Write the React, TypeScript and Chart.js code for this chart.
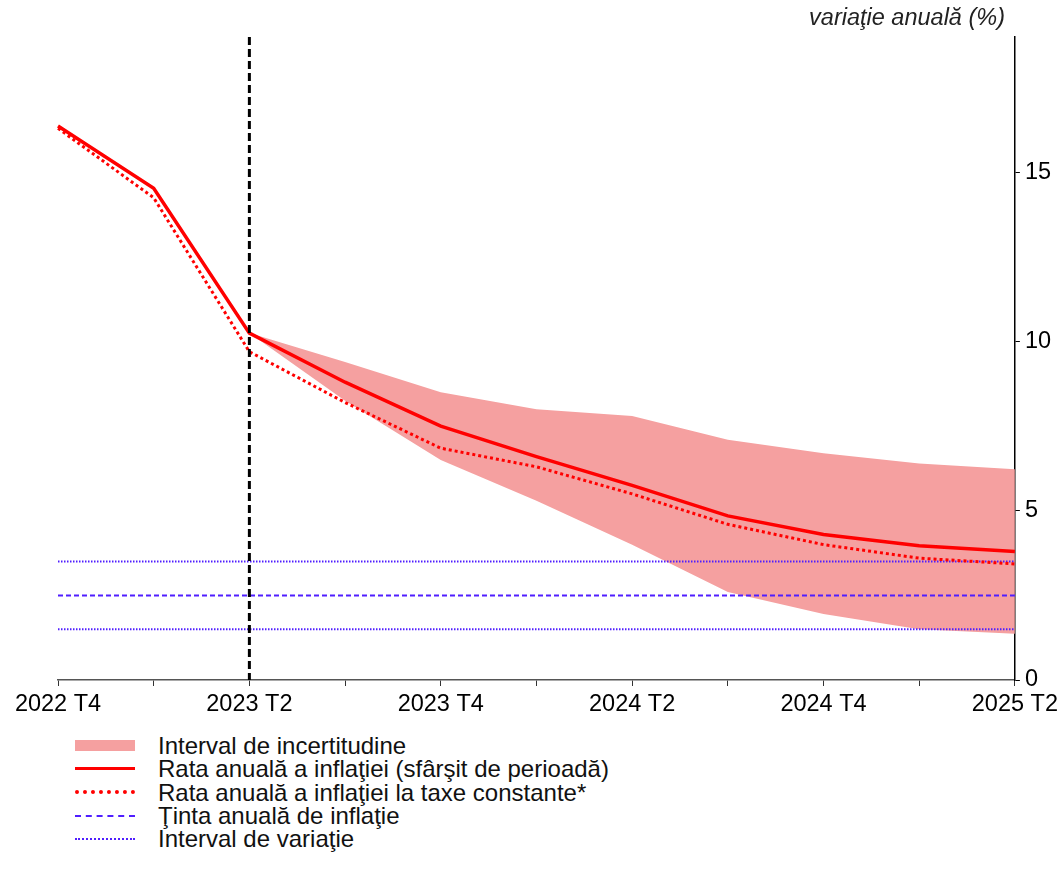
import React, { useEffect, useRef } from 'react';
import { Chart, registerables } from 'chart.js';

Chart.register(...registerables);

const categories = ['2022 T4', '2023 T1', '2023 T2', '2023 T3', '2023 T4', '2024 T1', '2024 T2', '2024 T3', '2024 T4', '2025 T1', '2025 T2'];
const tickLabels = ['2022 T4', '', '2023 T2', '', '2023 T4', '', '2024 T2', '', '2024 T4', '', '2025 T2'];
const inflation = [16.37, 14.53, 10.25, 8.8, 7.5, 6.6, 5.75, 4.85, 4.3, 3.97, 3.8];
const inflationConstTaxes = [16.3, 14.25, 9.7, 8.2, 6.85, 6.3, 5.5, 4.6, 4.0, 3.6, 3.43];
const bandLower = [null, null, 10.25, 8.25, 6.5, 5.3, 4.0, 2.6, 1.95, 1.5, 1.37];
const bandUpper = [null, null, 10.25, 9.4, 8.5, 8.0, 7.8, 7.1, 6.7, 6.4, 6.23];
const targetValue = 2.5;
const targetLowValue = 1.5;
const targetHighValue = 3.5;
const yTicks = [0, 5, 10, 15];
const yMin = 0;
const yMax = 19;
const forecastStart = '2023 T2';

const legendItems = [
  { label: 'Interval de incertitudine', kind: 'band' },
  { label: 'Rata anuală a inflaţiei (sfârşit de perioadă)', kind: 'solid' },
  { label: 'Rata anuală a inflaţiei la taxe constante*', kind: 'dotted' },
  { label: 'Ţinta anuală de inflaţie', kind: 'blueDashed' },
  { label: 'Interval de variaţie', kind: 'blueDotted' },
];

const FONT = 'Arial, "Liberation Sans", sans-serif';
const RED = 'rgb(255,0,0)';
const BAND = 'rgb(245,160,160)';
const BLUE = 'rgb(80,30,255)';

const vlinePlugin = {
  id: 'vline',
  afterDatasetsDraw(chart: any) {
    const xScale = chart.scales.x;
    const x = xScale.getPixelForValue(categories.indexOf(forecastStart));
    const { top, bottom } = chart.chartArea;
    const ctx = chart.ctx;
    ctx.save();
    ctx.strokeStyle = '#000';
    ctx.lineWidth = 3;
    ctx.setLineDash([8, 4]);
    ctx.beginPath();
    ctx.moveTo(x, top);
    ctx.lineTo(x, bottom);
    ctx.stroke();
    ctx.restore();
  },
};

function LegendSymbol({ kind }: { kind: string }) {
  const base: React.CSSProperties = { width: 60, boxSizing: 'border-box' };
  if (kind === 'band') return <div style={{ ...base, height: 11, background: BAND }} />;
  if (kind === 'solid') return <div style={{ ...base, height: 0, borderTop: `3.5px solid ${RED}` }} />;
  if (kind === 'dotted') return <div style={{ ...base, height: 0, borderTop: `4px dotted ${RED}` }} />;
  if (kind === 'blueDashed') return <div style={{ ...base, height: 0, borderTop: `2px dashed ${BLUE}` }} />;
  return <div style={{ ...base, height: 0, borderTop: `2px dotted ${BLUE}` }} />;
}

export default function App() {
  const canvasRef = useRef<HTMLCanvasElement | null>(null);

  useEffect(() => {
    if (!canvasRef.current) return;
    const n = categories.length;
    const chart = new Chart(canvasRef.current, {
      type: 'line',
      data: {
        labels: categories,
        datasets: [
          {
            label: 'lower',
            data: bandLower,
            borderWidth: 0,
            borderColor: 'rgba(0,0,0,0)',
            pointRadius: 0,
            fill: false,
            order: 10,
          },
          {
            label: 'Interval de incertitudine',
            data: bandUpper,
            borderWidth: 0,
            borderColor: 'rgba(0,0,0,0)',
            backgroundColor: BAND,
            pointRadius: 0,
            fill: '-1',
            order: 9,
          },
          {
            label: 'Interval de variaţie (jos)',
            data: new Array(n).fill(targetLowValue),
            borderColor: BLUE,
            borderWidth: 2,
            borderDash: [1.5, 1.5],
            pointRadius: 0,
            fill: false,
            order: 5,
          },
          {
            label: 'Ţinta anuală de inflaţie',
            data: new Array(n).fill(targetValue),
            borderColor: BLUE,
            borderWidth: 2,
            borderDash: [5, 3],
            pointRadius: 0,
            fill: false,
            order: 5,
          },
          {
            label: 'Interval de variaţie (sus)',
            data: new Array(n).fill(targetHighValue),
            borderColor: BLUE,
            borderWidth: 2,
            borderDash: [1.5, 1.5],
            pointRadius: 0,
            fill: false,
            order: 5,
          },
          {
            label: 'Rata anuală a inflaţiei la taxe constante*',
            data: inflationConstTaxes,
            borderColor: RED,
            borderWidth: 3,
            borderDash: [3, 3],
            pointRadius: 0,
            fill: false,
            order: 2,
          },
          {
            label: 'Rata anuală a inflaţiei (sfârşit de perioadă)',
            data: inflation,
            borderColor: RED,
            borderWidth: 3.5,
            pointRadius: 0,
            fill: false,
            order: 1,
          },
        ],
      },
      options: {
        animation: false,
        responsive: false,
        maintainAspectRatio: false,
        layout: { padding: { left: 58, top: 37, right: 0, bottom: 0 } },
        plugins: {
          legend: { display: false },
          tooltip: { enabled: false },
          title: { display: false },
        },
        scales: {
          x: {
            type: 'category',
            offset: false,
            grid: {
              display: true,
              drawOnChartArea: false,
              drawTicks: true,
              tickLength: 6,
              color: '#333',
            },
            border: { display: true, color: '#555', width: 1.5 },
            ticks: {
              autoSkip: false,
              maxRotation: 0,
              minRotation: 0,
              padding: 4,
              color: '#000',
              font: { family: FONT, size: 23.5 },
              callback: (_v: any, i: number) => tickLabels[i],
            },
            afterFit: (scale: any) => {
              scale.height = 50;
            },
          },
          y: {
            position: 'right',
            min: yMin,
            max: yMax,
            grid: {
              display: true,
              drawOnChartArea: false,
              drawTicks: true,
              tickLength: 5,
              color: '#000',
            },
            border: { display: true, color: '#000', width: 1.5 },
            ticks: {
              stepSize: 5,
              padding: 5,
              color: '#000',
              font: { family: FONT, size: 23.5 },
            },
            afterBuildTicks: (scale: any) => {
              scale.ticks = yTicks.map((v) => ({ value: v }));
            },
            afterFit: (scale: any) => {
              scale.width = 45;
            },
          },
        },
      },
      plugins: [vlinePlugin],
    });
    return () => chart.destroy();
  }, []);

  return (
    <div style={{ position: 'absolute', left: 0, top: 0, width: 1062, height: 883, background: '#fff', fontFamily: FONT }}>
      <canvas ref={canvasRef} width={1062} height={730} style={{ position: 'absolute', left: 0, top: 0, width: 1062, height: 730 }} />
      <div
        style={{
          position: 'absolute',
          right: 57,
          top: 4,
          fontSize: 23.5,
          lineHeight: '26px',
          fontStyle: 'italic',
          color: '#222',
          whiteSpace: 'nowrap',
        }}
      >
        variaţie anuală (%)
      </div>
      <div style={{ position: 'absolute', left: 75, top: 734 }}>
        {legendItems.map((item) => (
          <div key={item.label} style={{ display: 'flex', alignItems: 'center', height: 23.3 }}>
            <LegendSymbol kind={item.kind} />
            <span style={{ marginLeft: 23, fontSize: 24, lineHeight: '23.3px', color: '#111', whiteSpace: 'nowrap' }}>{item.label}</span>
          </div>
        ))}
      </div>
    </div>
  );
}
